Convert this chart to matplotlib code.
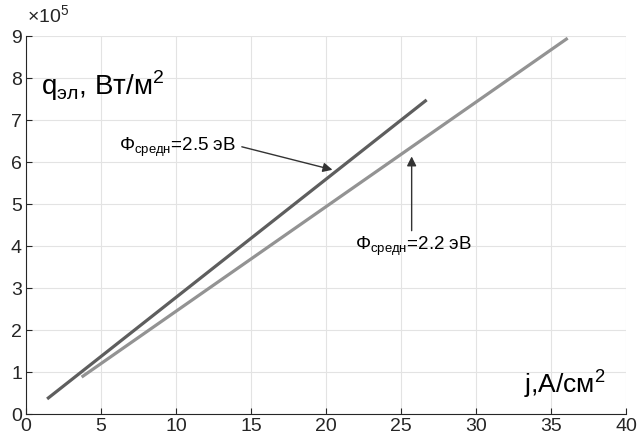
import matplotlib
matplotlib.use("Agg")
import matplotlib.pyplot as plt

plt.rcParams['font.family'] = ['Liberation Sans', 'DejaVu Sans']
plt.rcParams['mathtext.fontset'] = 'custom'
plt.rcParams['mathtext.rm'] = 'Liberation Sans'

# data (q in units of 1e5 W/m^2)
j_25 = [1.4, 26.7]
q_25 = [0.36, 7.48]
j_22 = [3.7, 36.1]
q_22 = [0.88, 8.95]

xticks = [0, 5, 10, 15, 20, 25, 30, 35, 40]
yticks = [0, 1, 2, 3, 4, 5, 6, 7, 8, 9]

fig = plt.figure(figsize=(6.37, 4.40), dpi=100)
ax = fig.add_axes([0.041, 0.059, 0.942, 0.859])

ax.plot(j_25, q_25, color='#5e5e5e', lw=2.3, solid_capstyle='butt')
ax.plot(j_22, q_22, color='#939393', lw=2.3, solid_capstyle='butt')

ax.set_xlim(0, 40)
ax.set_ylim(0, 9)
ax.set_xticks(xticks)
ax.set_yticks(yticks)
ax.grid(True, color='#e3e3e3', lw=0.8)
ax.set_axisbelow(True)
ax.tick_params(direction='in', length=4, labelsize=14, colors='#262626', pad=3)
for s in ['top', 'right']:
    ax.spines[s].set_visible(False)
for s in ['left', 'bottom']:
    ax.spines[s].set_color('#262626')

fig.text(0.043, 0.950, r'$\times\mathregular{10^5}$', fontsize=14, color='#262626')

ax.text(1.0, 7.6, 'q$_{\\mathregular{эл}}$, Вт/м$^\\mathregular{2}$', fontsize=20)
ax.text(33.2, 0.5, 'j,A/см$^\\mathregular{2}$', fontsize=19)

ax.annotate('', xy=(20.6, 5.8), xytext=(14.2, 6.38),
            arrowprops=dict(arrowstyle='-|>', color='#333333', lw=1, mutation_scale=14))
ax.text(6.2, 6.35, 'Φ$_{\\mathregular{средн}}$=2.5 эВ', fontsize=13.5, va='center')

ax.annotate('', xy=(25.7, 6.2), xytext=(25.7, 4.3),
            arrowprops=dict(arrowstyle='-|>', color='#333333', lw=1, mutation_scale=14))
ax.text(21.9, 4.0, 'Φ$_{\\mathregular{средн}}$=2.2 эВ', fontsize=13.5, va='center')

fig.savefig('out.png', dpi=100)
